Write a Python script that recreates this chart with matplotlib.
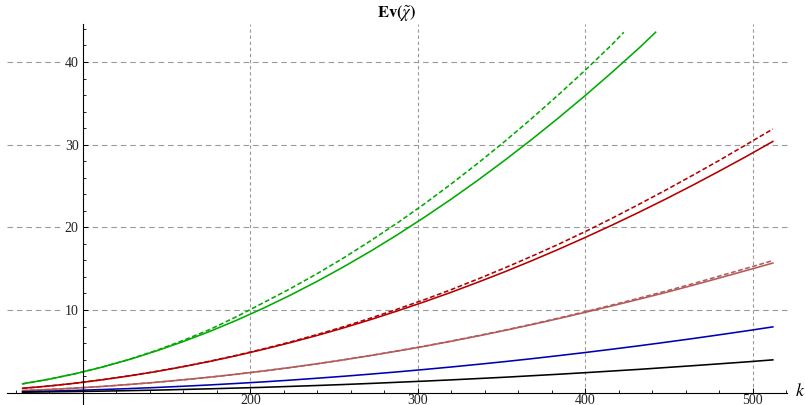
import numpy as np
import matplotlib.pyplot as plt
from matplotlib.ticker import FixedLocator

plt.rcParams['font.family'] = ['Liberation Serif', 'DejaVu Serif']
plt.rcParams['mathtext.fontset'] = 'stix'

k = [64, 80, 96, 112, 128, 144, 160, 176, 192, 208, 224, 240, 256, 272, 288,
     304, 320, 336, 352, 368, 384, 400, 416, 432, 448, 464, 480, 496, 512]

# green pair runs off the top of the plot, so it stops early
green_k_solid = k[:24] + [442]
green_solid = [1.07, 1.64, 2.32, 3.12, 4.03, 5.06, 6.19, 7.43, 8.78, 10.24, 11.81, 13.48,
               15.26, 17.14, 19.13, 21.23, 23.42, 25.72, 28.13, 30.63, 33.24, 35.95,
               38.76, 41.67, 43.6]
green_k_dashed = k[:23] + [423]
green_dashed = [1.07, 1.64, 2.32, 3.13, 4.05, 5.12, 6.33, 7.66, 9.22, 10.90, 12.60, 14.41,
                16.34, 18.40, 20.56, 22.85, 25.26, 27.78, 30.41, 33.17, 36.04, 39.02,
                42.12, 43.6]

red_solid = [0.53, 0.81, 1.16, 1.57, 2.04, 2.56, 3.15, 3.79, 4.49, 5.25, 6.06, 6.93, 7.86,
             8.85, 9.90, 11.00, 12.15, 13.37, 14.63, 15.96, 17.34, 18.78, 20.27, 21.82,
             23.42, 25.08, 26.80, 28.56, 30.39]
red_dashed = [0.53, 0.81, 1.16, 1.58, 2.05, 2.58, 3.17, 3.82, 4.53, 5.31, 6.14, 7.04, 8.0,
              9.03, 10.12, 11.26, 12.47, 13.76, 15.1, 16.50, 17.95, 19.49, 21.1, 22.78,
              24.5, 26.28, 28.1, 29.99, 31.9]
rosy_solid = [0.25, 0.39, 0.56, 0.76, 1.0, 1.26, 1.56, 1.88, 2.24, 2.63, 3.05, 3.5, 3.98,
              4.5, 5.04, 5.61, 6.22, 6.86, 7.53, 8.23, 8.96, 9.72, 10.5, 11.3, 12.12,
              12.98, 13.87, 14.77, 15.68]
rosy_dashed = [0.25, 0.39, 0.56, 0.76, 1.0, 1.26, 1.56, 1.88, 2.24, 2.63, 3.05, 3.5, 3.99,
               4.51, 5.06, 5.64, 6.25, 6.9, 7.57, 8.28, 9.02, 9.8, 10.6, 11.43, 12.28,
               13.17, 14.1, 15.03, 15.98]
blue = [0.12, 0.19, 0.28, 0.38, 0.50, 0.63, 0.78, 0.94, 1.12, 1.31, 1.52, 1.75, 1.99, 2.25,
        2.52, 2.81, 3.11, 3.43, 3.76, 4.11, 4.48, 4.86, 5.26, 5.67, 6.10, 6.54, 7.0, 7.47,
        7.96]
black = [0.06, 0.10, 0.14, 0.19, 0.25, 0.31, 0.39, 0.47, 0.56, 0.65, 0.76, 0.87, 0.99,
         1.12, 1.26, 1.40, 1.55, 1.71, 1.87, 2.05, 2.23, 2.42, 2.62, 2.82, 3.04, 3.26,
         3.49, 3.72, 3.97]

x_major = [200, 300, 400, 500]
y_major = [10, 20, 30, 40]

GREEN = '#00aa00'
RED = '#b20000'
ROSY = '#b35a5a'
BLUE = '#0000b2'

fig = plt.figure(figsize=(8.05, 4.05), dpi=100)
ax = fig.add_axes([0, 0, 1, 1])
ax.set_xlim(50.5, 531.2)
ax.set_ylim(-1.49, 47.5)

# grid only inside the plot range (mathematica style)
ax.hlines(y_major, 54.5, 520.4, colors='#9a9a9a', linestyles=(0, (5, 3.5)), lw=0.8, zorder=0)
ax.vlines(x_major, -1.5, 44.6, colors='#9a9a9a', linestyles=(0, (3, 2.5)), lw=0.8, zorder=0)

dash = (0, (3, 1.6))
lw = 1.15
ax.plot(green_k_dashed, green_dashed, color=GREEN, lw=lw, linestyle=dash)
ax.plot(green_k_solid, green_solid, color=GREEN, lw=lw)
ax.plot(k, red_dashed, color=RED, lw=lw, linestyle=dash)
ax.plot(k, red_solid, color=RED, lw=lw)
ax.plot(k, rosy_dashed, color=ROSY, lw=lw, linestyle=dash)
ax.plot(k, rosy_solid, color=ROSY, lw=lw)
ax.plot(k, blue, color=BLUE, lw=lw)
ax.plot(k, black, color='black', lw=lw)

# axes crossing at (100, 0)
ax.spines['top'].set_visible(False)
ax.spines['right'].set_visible(False)
ax.spines['left'].set_position(('data', 100))
ax.spines['bottom'].set_position(('data', 0))
ax.spines['left'].set_bounds(-1.5, 44.6)
ax.spines['bottom'].set_bounds(54.5, 520.4)
for s in ['left', 'bottom']:
    ax.spines[s].set_linewidth(0.8)

ax.xaxis.set_major_locator(FixedLocator(x_major))
ax.xaxis.set_minor_locator(FixedLocator(np.arange(60, 521, 20)))
ax.yaxis.set_major_locator(FixedLocator(y_major))
ax.yaxis.set_minor_locator(FixedLocator(np.arange(0, 45, 2)))
ax.tick_params(which='major', direction='in', length=3.5, width=0.7, labelsize=10,
               labelcolor='#222222')
ax.tick_params(which='minor', direction='in', length=2, width=0.6)
ax.tick_params(axis='x', pad=0.8)
ax.tick_params(axis='y', pad=3)

for lab in ax.get_xticklabels() + ax.get_yticklabels():
    lab.set_bbox(dict(facecolor='white', edgecolor='none', pad=0.6))

fig.text(397 / 805, 1 - 14 / 405, r'$\mathbf{Ev(}\tilde{\chi}\mathbf{)}$', ha='center', va='center', fontsize=12)
fig.text(800 / 805, 1 - 391 / 405, r'$k$', ha='center', va='center', fontsize=13)

fig.savefig('out.png', dpi=100)
